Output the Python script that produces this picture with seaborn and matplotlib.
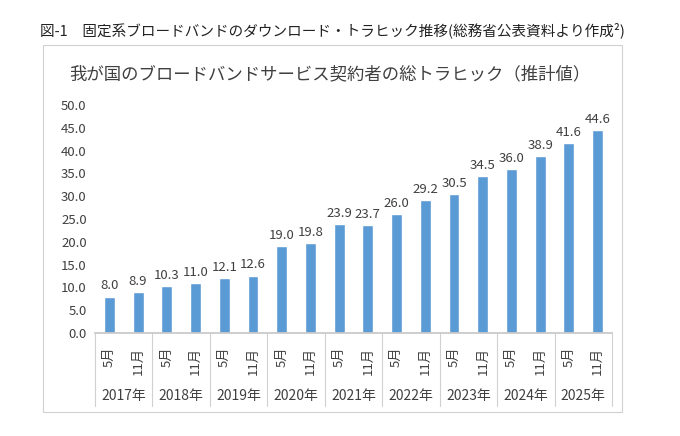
import matplotlib
matplotlib.use("Agg")
import matplotlib.pyplot as plt
import seaborn as sns
import pandas as pd
from matplotlib.patches import Rectangle

years = ["2017年","2018年","2019年","2020年","2021年","2022年","2023年","2024年","2025年"]
months = ["5月","11月"]
values = [8.0,8.9,10.3,11.0,12.1,12.6,19.0,19.8,23.9,23.7,26.0,29.2,30.5,34.5,36.0,38.9,41.6,44.6]
yticks = [0,5,10,15,20,25,30,35,40,45,50]

sns.set_theme(style="white")
plt.rcParams['font.family'] = ['Noto Sans CJK JP', 'DejaVu Sans']

labels = [f"{y}{m}" for y in years for m in months]
df = pd.DataFrame({"cat": labels, "v": values})

fig = plt.figure(figsize=(6.8, 4.36), dpi=100)
fig.patches.append(Rectangle((43/680, 1-412/436), (622-43)/680, (412-45)/436,
                             transform=fig.transFigure, fill=False, edgecolor="#d0d0d0", lw=0.8))
ax = fig.add_axes([95/680, 1-333/436, (612-95)/680, (333-105)/436])
sns.barplot(data=df, x="cat", y="v", color="#5B9BD5", saturation=1, width=0.38, ax=ax)
ax.set_ylim(0, 50)
ax.set_xlim(-0.5, len(values)-0.5)
ax.set_yticks(yticks)
ax.set_yticklabels([f"{t:.1f}" for t in yticks], fontsize=9.5, color="#404040")
ax.set_xticks(range(len(values)))
ax.set_xticklabels([m for _ in years for m in months], rotation=90, fontsize=9.5, color="#404040")
ax.tick_params(axis="x", length=0, pad=10)
ax.tick_params(axis="y", length=0, pad=6)
ax.set_xlabel(""); ax.set_ylabel("")
for s in ["top","right","left"]:
    ax.spines[s].set_visible(False)
ax.spines["bottom"].set_color("#c8c8c8")
for i, v in enumerate(values):
    ax.text(i, v + 0.9, f"{v:.1f}", ha="center", va="bottom", fontsize=9.5, color="#404040")
trans = ax.get_xaxis_transform()
for k in range(len(years)+1):
    x = 2*k - 0.5
    ax.plot([x, x], [0, -0.32], transform=trans, color="#d0d0d0", lw=0.8, clip_on=False)
for k, y in enumerate(years):
    ax.text(2*k + 0.5, -0.275, y, transform=trans, ha="center", va="center", fontsize=10, color="#404040")
fig.text(330/680, 1-74/436, "我が国のブロードバンドサービス契約者の総トラヒック（推計値）",
         ha="center", va="center", fontsize=12.5, color="#404040")
fig.text(40/680, 1-30/436, "図-1　固定系ブロードバンドのダウンロード・トラヒック推移(総務省公表資料より作成²)",
         ha="left", va="center", fontsize=10.5, color="#222222")
fig.savefig("out.png", dpi=100)
